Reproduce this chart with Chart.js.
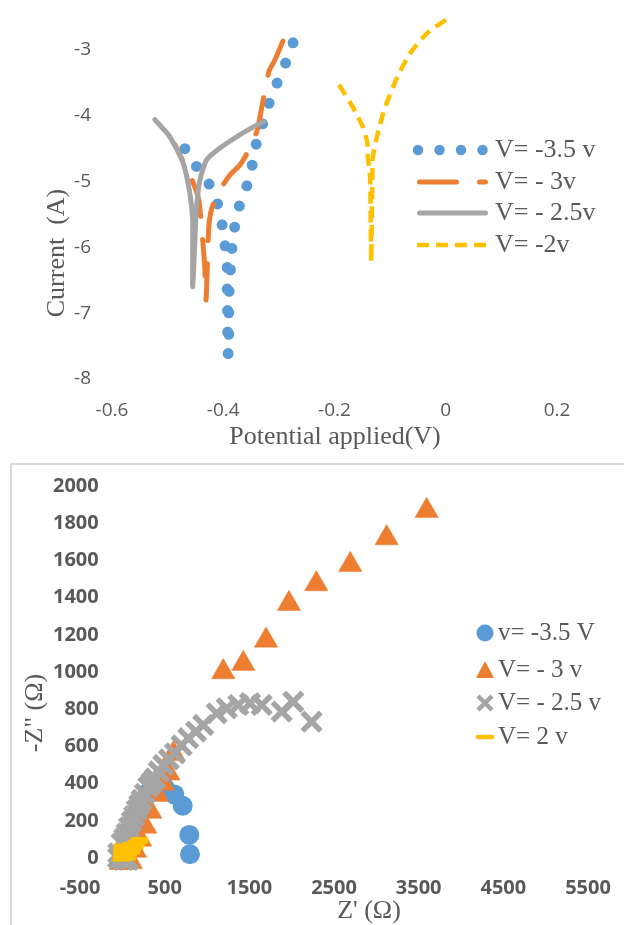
<!DOCTYPE html>
<html><head><meta charset="utf-8">
<script src="https://cdn.jsdelivr.net/npm/chart.js@4/dist/chart.umd.min.js"></script>
<style>
html,body{margin:0;padding:0;background:#fff;overflow:hidden;width:624px;height:925px;}
#top{position:absolute;left:0;top:0;width:624px;height:462px;}
#frame{position:absolute;left:10px;top:463px;width:700px;height:520px;border:2px solid #d9d9d9;box-sizing:border-box;}
#bot{position:absolute;left:0;top:464px;width:624px;height:461px;}
canvas{display:block;}
</style></head><body>
<div id="top"><canvas id="c1" width="624" height="462"></canvas></div>
<div id="frame"></div>
<div id="bot"><canvas id="c2" width="624" height="461"></canvas></div>
<script>
// ---------- Top chart (Tafel) data ----------
const topSeriesLabels = ['V= -3.5 v', 'V= - 3v', 'V= - 2.5v', 'V= -2v'];
const topXTicks = [-0.6, -0.4, -0.2, 0, 0.2];
const topYTicks = [-8, -7, -6, -5, -4, -3];
const tafelBlueX = [-0.469,-0.449,-0.431,-0.418,-0.408,-0.402,-0.397,-0.393,-0.393,-0.392,-0.392,-0.391,-0.390,-0.390,-0.386,-0.382,-0.375,-0.368,-0.357,-0.348,-0.341,-0.330,-0.318,-0.303,-0.287,-0.273];
const tafelBlueY = [-4.50,-4.76,-4.96,-5.16,-5.40,-5.66,-5.96,-6.27,-6.65,-7.03,-7.41,-7.63,-7.25,-6.80,-6.19,-5.81,-5.51,-5.28,-5.05,-4.75,-4.44,-4.14,-3.82,-3.50,-3.18,-2.86];
const tafelOrangeX = [-0.487,-0.456,-0.444,-0.437,-0.433,-0.431,-0.429,-0.426,-0.420,-0.406,-0.388,-0.370,-0.352,-0.339,-0.330,-0.318,-0.307,-0.292];
const tafelOrangeY = [-4.44,-4.98,-5.28,-5.89,-6.34,-6.80,-6.40,-5.69,-5.39,-5.13,-4.90,-4.75,-4.49,-4.22,-3.84,-3.33,-3.15,-2.85];
const tafelGreyX = [-0.523,-0.496,-0.472,-0.460,-0.455,-0.455,-0.455,-0.452,-0.450,-0.448,-0.442,-0.430,-0.406,-0.376,-0.352,-0.328];
const tafelGreyY = [-4.06,-4.32,-4.72,-5.18,-5.58,-6.10,-6.60,-6.10,-5.70,-5.38,-4.98,-4.67,-4.49,-4.32,-4.20,-4.09];
const tafelYellowX = [-0.192,-0.167,-0.149,-0.141,-0.140,-0.136,-0.135,-0.134,-0.133,-0.132,-0.131,-0.122,-0.109,-0.087,-0.064,-0.033,0.004];
const tafelYellowY = [-3.53,-3.87,-4.17,-4.41,-4.63,-4.95,-5.60,-6.22,-5.60,-4.95,-4.63,-4.26,-3.87,-3.41,-3.05,-2.74,-2.52];

// ---------- Bottom chart (Nyquist) data ----------
const botSeriesLabels = ['v= -3.5 V', 'V= - 3 v', 'V= - 2.5 v', 'V= 2 v'];
const botXTicks = [-500, 500, 1500, 2500, 3500, 4500, 5500];
const botYTicks = [0, 200, 400, 600, 800, 1000, 1200, 1400, 1600, 1800, 2000];
const nyqBlueX = [0, 30, 70, 110, 160, 220, 300, 400, 504, 614, 713, 791, 799];
const nyqBlueY = [10, 60, 120, 180, 240, 300, 350, 375, 376, 342, 281, 124, 20];
const nyqOrangeX = [-20, 40, 100, 150, 210, 270, 330, 410, 480, 545, 605, 1192, 1429, 1697, 1968, 2291, 2692, 3122, 3594];
const nyqOrangeY = [-25, -25, -20, 40, 100, 170, 250, 340, 400, 455, 560, 1000, 1045, 1170, 1367, 1473, 1577, 1720, 1867];
const nyqGreyX = [-50, 10, 70, -48, -8, 22, 52, 80, 111, 140, 170, 200, 229, 265, 307, 345, 386, 430, 484, 550, 622, 700, 779, 870, 956, 1114, 1233, 1370, 1508, 1646, 1882, 2019, 2236];
const nyqGreyY = [0, -10, -10, 25, 79, 105, 133, 165, 195, 225, 258, 285, 312, 345, 383, 405, 428, 465, 500, 530, 563, 605, 644, 680, 715, 778, 805, 823, 832, 823, 787, 840, 733];
const nyqYellowX = [-15, -10, -10, -5, 0, 5, 20, 30, 40, 50, 60, 70, 80, 90, 100, 110, 120, 130, 150, 160, 170, 185, 200, 205];
const nyqYellowY = [-5, 10, 30, 50, 65, -5, 10, 25, 45, 62, 0, 18, 38, 55, 72, 30, 50, 68, 60, 82, 75, 92, 88, 100];

const BLUE = '#5B9BD5', ORANGE = '#ED7D31', GREY = '#A5A5A5', YELLOW = '#FFC000', TXT = '#595959';
const SERIF = "'Liberation Serif', 'Times New Roman', serif";
const SANS = "'Open Sans', 'Liberation Sans', sans-serif";

function pts(xs, ys) { return xs.map((x, i) => ({x: x, y: ys[i]})); }
function setTicks(arr) { return s => { s.ticks = arr.map(v => ({value: v})); }; }
function fixSize(dim, val) {
  return s => { s[dim] = val; s.paddingTop = 0; s.paddingBottom = 0; s.paddingLeft = 0; s.paddingRight = 0; };
}

function line(ctx, x1, x2, y, color, w, dash, cap) {
  ctx.save(); ctx.beginPath(); ctx.strokeStyle = color; ctx.lineWidth = w;
  ctx.setLineDash(dash); ctx.lineCap = cap; ctx.moveTo(x1, y); ctx.lineTo(x2, y); ctx.stroke(); ctx.restore();
}
function text(ctx, s, x, y, font, align, rot) {
  ctx.save(); ctx.font = font; ctx.fillStyle = TXT; ctx.textAlign = align; ctx.textBaseline = 'middle';
  ctx.translate(x, y); if (rot) ctx.rotate(rot); ctx.fillText(s, 0, 0); ctx.restore();
}

const topExtras = {
  id: 'topExtras',
  afterDraw(chart) {
    const ctx = chart.ctx;
    text(ctx, 'Potential applied(V)', 335, 437, '26px ' + SERIF, 'center');
    text(ctx, 'Current  (A)', 57, 253, '26px ' + SERIF, 'center', -Math.PI / 2);
    line(ctx, 418, 484, 150, BLUE, 10.5, [0, 21.5], 'round');
    line(ctx, 419.5, 485.5, 182, ORANGE, 5, [37, 23], 'round');
    line(ctx, 419.5, 485.5, 213, GREY, 5, [], 'round');
    line(ctx, 417, 487, 245, YELLOW, 4.5, [12, 7], 'butt');
    const rows = [150, 182, 213, 245];
    topSeriesLabels.forEach((s, i) => text(ctx, s, 495, rows[i], '26px ' + SERIF, 'left'));
  }
};

const botExtras = {
  id: 'botExtras',
  afterDraw(chart) {
    const ctx = chart.ctx;
    text(ctx, "Z' (\u03A9)", 369, 447, '26px ' + SERIF, 'center');
    text(ctx, '-Z" (\u03A9)', 35, 249, '26px ' + SERIF, 'center', -Math.PI / 2);
    const rows = [169, 206, 239, 273];
    const cx = 485;
    ctx.save();
    ctx.fillStyle = BLUE; ctx.beginPath(); ctx.arc(cx, rows[0], 8.5, 0, Math.PI * 2); ctx.fill();
    ctx.fillStyle = ORANGE; ctx.beginPath();
    ctx.moveTo(cx, rows[1] - 9); ctx.lineTo(cx + 9, rows[1] + 8); ctx.lineTo(cx - 9, rows[1] + 8); ctx.closePath(); ctx.fill();
    ctx.strokeStyle = GREY; ctx.lineWidth = 4.5; ctx.beginPath();
    ctx.moveTo(cx - 7, rows[2] - 7); ctx.lineTo(cx + 7, rows[2] + 7);
    ctx.moveTo(cx + 7, rows[2] - 7); ctx.lineTo(cx - 7, rows[2] + 7); ctx.stroke();
    ctx.strokeStyle = YELLOW; ctx.lineWidth = 4.5; ctx.lineCap = 'round'; ctx.beginPath();
    ctx.moveTo(cx - 7, rows[3]); ctx.lineTo(cx + 7, rows[3]); ctx.stroke();
    ctx.restore();
    botSeriesLabels.forEach((s, i) => text(ctx, s, 498, rows[i], '25px ' + SERIF, 'left'));
  }
};

const baseLine = {showLine: true, pointRadius: 0, borderJoinStyle: 'round', tension: 0.2, fill: false};

new Chart(document.getElementById('c1'), {
  type: 'scatter',
  data: {datasets: [
    Object.assign({label: topSeriesLabels[0], data: pts(tafelBlueX, tafelBlueY), borderColor: BLUE, borderWidth: 11, borderDash: [0, 21.5], borderCapStyle: 'round', order: 4}, baseLine),
    Object.assign({label: topSeriesLabels[1], data: pts(tafelOrangeX, tafelOrangeY), borderColor: ORANGE, borderWidth: 5, borderDash: [37, 23], borderDashOffset: 20, borderCapStyle: 'round', order: 3}, baseLine),
    Object.assign({label: topSeriesLabels[2], data: pts(tafelGreyX, tafelGreyY), borderColor: GREY, borderWidth: 5, borderCapStyle: 'round', order: 2}, baseLine),
    Object.assign({label: topSeriesLabels[3], data: pts(tafelYellowX, tafelYellowY), borderColor: YELLOW, borderWidth: 4.5, borderDash: [12, 7], borderCapStyle: 'butt', order: 1}, baseLine)
  ]},
  options: {
    responsive: false, animation: false, devicePixelRatio: 1, events: [],
    layout: {padding: {left: 0, right: 67, top: 17, bottom: 0}},
    plugins: {legend: {display: false}, tooltip: {enabled: false}},
    scales: {
      x: {type: 'linear', min: -0.6, max: 0.2, grid: {display: false, drawTicks: false}, border: {display: false},
        afterBuildTicks: setTicks(topXTicks), afterFit: fixSize('height', 83),
        ticks: {padding: 20, color: TXT, font: {family: SANS, size: 19}, maxRotation: 0, autoSkip: false, callback: v => String(v)}},
      y: {type: 'linear', min: -8, max: -2.5, grid: {display: false, drawTicks: false}, border: {display: false},
        afterBuildTicks: setTicks(topYTicks), afterFit: fixSize('width', 112),
        ticks: {padding: 21, color: TXT, font: {family: SANS, size: 19}, autoSkip: false, callback: v => String(v)}}
    }
  },
  plugins: [topExtras]
});

new Chart(document.getElementById('c2'), {
  type: 'scatter',
  data: {datasets: [
    {label: botSeriesLabels[0], data: pts(nyqBlueX, nyqBlueY), pointStyle: 'circle', pointRadius: 10, backgroundColor: BLUE, borderColor: BLUE, borderWidth: 0, order: 4, clip: false},
    {label: botSeriesLabels[1], data: pts(nyqOrangeX, nyqOrangeY), pointStyle: 'triangle', pointRadius: 13.5, backgroundColor: ORANGE, borderColor: ORANGE, borderWidth: 0.5, order: 3, clip: false},
    {label: botSeriesLabels[2], data: pts(nyqGreyX, nyqGreyY), pointStyle: 'crossRot', pointRadius: 13, backgroundColor: GREY, borderColor: GREY, borderWidth: 5.5, order: 2, clip: false},
    {label: botSeriesLabels[3], data: pts(nyqYellowX, nyqYellowY), pointStyle: 'line', pointRadius: 8.5, backgroundColor: YELLOW, borderColor: YELLOW, borderWidth: 5, order: 1, clip: false}
  ]},
  options: {
    responsive: false, animation: false, devicePixelRatio: 1, events: [],
    layout: {padding: {left: 0, right: 36, top: 22, bottom: 0}},
    plugins: {legend: {display: false}, tooltip: {enabled: false}},
    scales: {
      x: {type: 'linear', min: -500, max: 5500, grid: {display: false, drawTicks: false}, border: {display: false},
        afterBuildTicks: setTicks(botXTicks), afterFit: fixSize('height', 67),
        ticks: {padding: 18, color: TXT, font: {family: SANS, size: 20, weight: 'bold'}, maxRotation: 0, autoSkip: false, callback: v => String(v)}},
      y: {type: 'linear', min: 0, max: 2000, grid: {display: false, drawTicks: false}, border: {display: false},
        afterBuildTicks: setTicks(botYTicks), afterFit: fixSize('width', 80),
        ticks: {mirror: true, crossAlign: 'far', padding: -27, color: TXT, font: {family: SANS, size: 20, weight: 'bold'}, autoSkip: false, callback: v => String(v)}}
    }
  },
  plugins: [botExtras]
});
</script>
</body></html>
